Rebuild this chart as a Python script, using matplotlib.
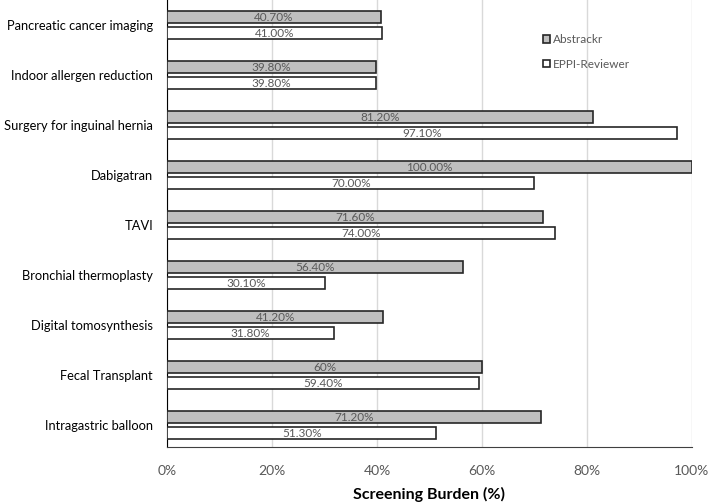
import numpy as np
import matplotlib
matplotlib.use("Agg")
import matplotlib.pyplot as plt

# ------------------- данные -------------------
categories = ["Pancreatic cancer imaging", "Indoor allergen reduction", "Surgery for inguinal hernia",
              "Dabigatran", "TAVI", "Bronchial thermoplasty", "Digital tomosynthesis",
              "Fecal Transplant", "Intragastric balloon"]
abstrackr = [40.7, 39.8, 81.2, 100.0, 71.6, 56.4, 41.2, 60.0, 71.2]
eppi = [41.0, 39.8, 97.1, 70.0, 74.0, 30.1, 31.8, 59.4, 51.3]
abstrackr_labels = ["40.70%", "39.80%", "81.20%", "100.00%", "71.60%", "56.40%", "41.20%", "60%", "71.20%"]
eppi_labels = ["41.00%", "39.80%", "97.10%", "70.00%", "74.00%", "30.10%", "31.80%", "59.40%", "51.30%"]
xticks = [0, 20, 40, 60, 80, 100]

plt.rcParams['font.family'] = ['Lato', 'DejaVu Sans']

fig = plt.figure(figsize=(7.09, 5.04), dpi=100)
ax = fig.add_axes([0.2355, 0.113, 0.7405, 0.887])

y = np.arange(len(categories))
h = 0.23
edge = '#262626'
b1 = ax.barh(y - 0.16, abstrackr, height=h, color='#bfbfbf', edgecolor=edge, linewidth=1.2,
             label='Abstrackr', zorder=3)
b2 = ax.barh(y + 0.16, eppi, height=h, color='white', edgecolor=edge, linewidth=1.2,
             label='EPPI-Reviewer', zorder=3)

for bars, labels in ((b1, abstrackr_labels), (b2, eppi_labels)):
    for bar, lab in zip(bars, labels):
        ax.text(bar.get_width() / 2, bar.get_y() + bar.get_height() / 2, lab,
                ha='center', va='center', fontsize=8.5, color='#595959', zorder=4)

ax.set_xlim(0, 100)
ax.set_ylim(8.44, -0.5)
ax.set_yticks(y)
ax.set_yticklabels(categories, fontsize=9.3, color='black')
ax.set_xticks(xticks)
ax.set_xticklabels([f"{t}%" for t in xticks], fontsize=10, color='#595959')
ax.tick_params(axis='both', length=0)
ax.tick_params(axis='x', pad=13)
ax.tick_params(axis='y', pad=10)

ax.grid(axis='x', color='#d9d9d9', linewidth=1, zorder=0)
for s in ('top', 'right'):
    ax.spines[s].set_visible(False)
ax.spines['left'].set_color('black')
ax.spines['bottom'].set_color('#404040')

ax.set_xlabel("Screening Burden (%)", fontsize=11.5, fontweight='bold', labelpad=7)

ax.legend(loc='upper left', bbox_to_anchor=(0.716, 0.924), frameon=False, fontsize=8.5,
          labelcolor='#595959', handlelength=0.6, handleheight=0.6, handletextpad=0.25,
          labelspacing=1.15, borderaxespad=0, borderpad=0)

fig.savefig("out.png", dpi=100)
